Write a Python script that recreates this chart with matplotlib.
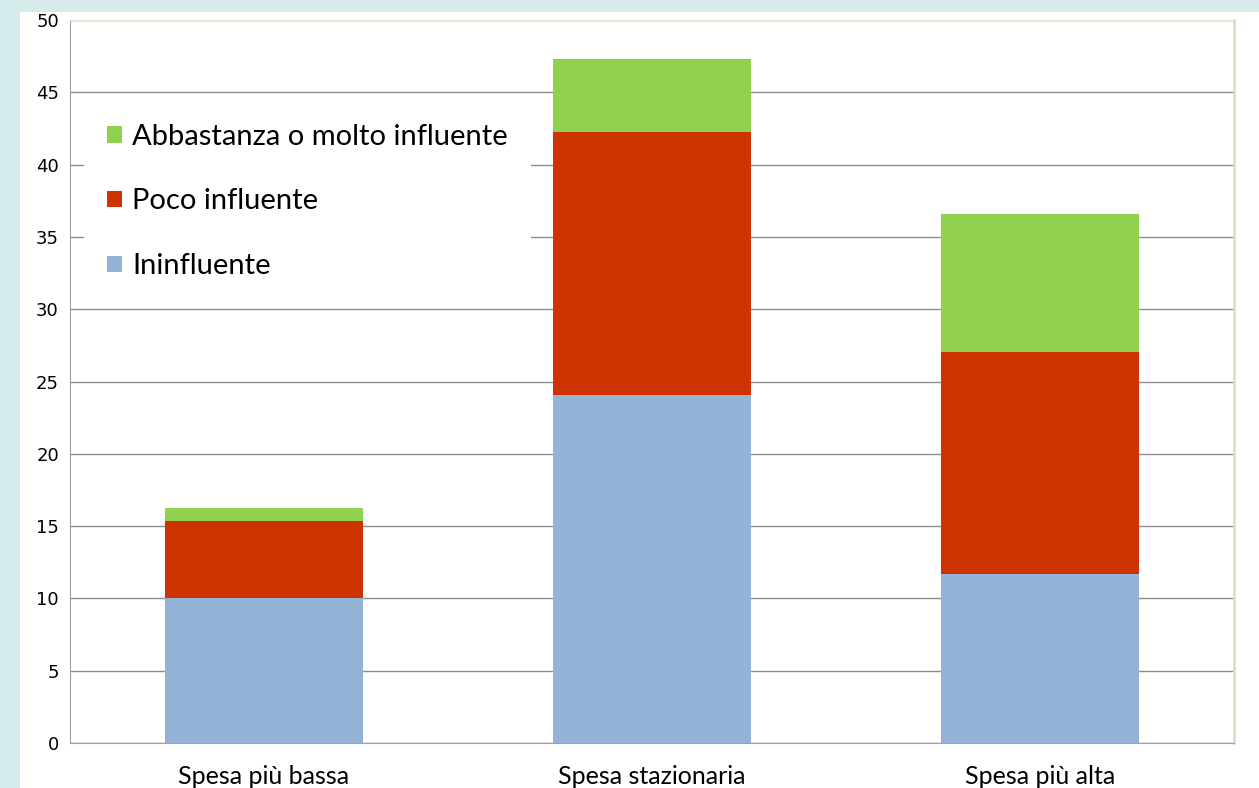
import numpy as np
import matplotlib.pyplot as plt
from matplotlib.patches import Rectangle

# data
categories = ['Spesa più bassa', 'Spesa stazionaria', 'Spesa più alta']
ininfluente = [10.0, 24.1, 11.7]
poco = [5.35, 18.15, 15.35]
abbastanza = [0.9, 5.05, 9.55]
yticks = list(range(0, 51, 5))

series_labels = ['Ininfluente', 'Poco influente', 'Abbastanza o molto influente']
colors = ['#95B3D7', '#CC3300', '#92D050']

plt.rcParams['font.family'] = ['Lato', 'DejaVu Sans']

fig = plt.figure(figsize=(12.59, 7.88), dpi=100, facecolor='#d6ecec')
# white slide area over the teal background
fig.patches.append(Rectangle((20 / 1259, 0), 1, (788 - 12) / 788,
                             transform=fig.transFigure, facecolor='white',
                             edgecolor='none', zorder=-5))

ax = fig.add_axes([70 / 1259, 45 / 788, 1164 / 1259, 723 / 788])
ax.set_zorder(2)
ax.set_facecolor('white')

x = np.arange(len(categories))
w = 0.51
bottom = np.zeros(len(categories))
handles = []
for vals, lab, c in zip([ininfluente, poco, abbastanza], series_labels, colors):
    b = ax.bar(x, vals, w, bottom=bottom, color=c, label=lab, zorder=3)
    handles.append(b)
    bottom += np.array(vals)

ax.set_xlim(-0.5, 2.5)
ax.set_ylim(0, 50)
ax.set_yticks(yticks, labels=[str(v) for v in yticks],
              fontfamily='DejaVu Sans', fontsize=13)
ax.set_xticks(x)
ax.set_xticklabels(categories, fontsize=18)
ax.tick_params(axis='y', length=0, pad=8)
ax.tick_params(axis='x', length=0, pad=16)
ax.grid(axis='y', color='#8c8c8c', linewidth=1, zorder=0)

ax.spines['left'].set_color('#a0a0a0')
ax.spines['bottom'].set_color('#a0a0a0')
ax.spines['top'].set_color('#e6e2d0')
ax.spines['right'].set_color('#e0dcc8')
ax.spines['right'].set_linewidth(2)

leg = ax.legend(handles[::-1], series_labels[::-1], loc='upper left',
                bbox_to_anchor=(0.012, 0.889), frameon=True, fontsize=21,
                handlelength=0.5, handleheight=0.5, handletextpad=0.35,
                labelspacing=1.33, borderpad=0.8, borderaxespad=0)
leg.get_frame().set_facecolor('white')
leg.get_frame().set_edgecolor('none')
leg.get_frame().set_alpha(1)
leg.get_frame().set_boxstyle('square', pad=0)
leg.set_zorder(5)

fig.savefig('out.png', dpi=100, facecolor=fig.get_facecolor())
